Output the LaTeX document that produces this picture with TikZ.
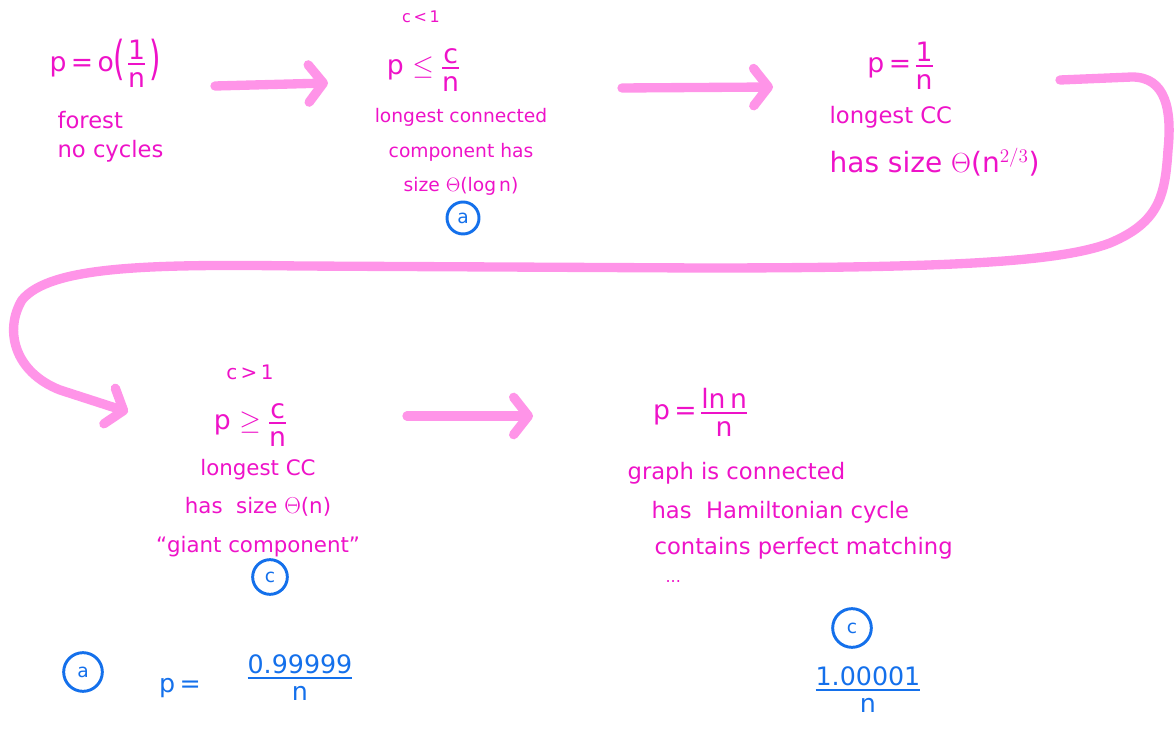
\documentclass[tikz,border=0pt]{standalone}
\usepackage{fontspec}
\setmainfont{DejaVu Sans}
\usetikzlibrary{arrows.meta}
\definecolor{mag}{RGB}{238,18,200}
\definecolor{blu}{RGB}{20,112,235}
\definecolor{arr}{RGB}{255,148,232}
\newcommand{\hfr}[2]{$\vcenter{\offinterlineskip\halign{\hfil##\hfil\cr\vrule height0.76em depth0.06em width0pt #1\cr\noalign{\kern1.5pt\hrule height1.3pt\kern1.5pt}\vrule height0.76em depth0.06em width0pt #2\cr}}$}
\newcommand{\tallparen}[1]{\raisebox{-0.12em}{\scalebox{1.1}[1.75]{#1}}}
\tikzset{
  txt/.style={text=mag, font=\fontsize{14}{26}\selectfont, inner sep=1pt},
  bigtxt/.style={text=mag, font=\fontsize{20}{24}\selectfont, inner sep=1pt},
  smalltxt/.style={text=mag, font=\fontsize{12}{14}\selectfont, inner sep=1pt},
  bluetxt/.style={text=blu, font=\fontsize{19}{22}\selectfont, inner sep=1pt},
  lab/.style={circle, draw=blu, line width=2.2pt, text=blu, inner sep=0pt, minimum size=24pt, font=\fontsize{14}{16}\selectfont},
  conn/.style={draw=arr, line width=7pt, line cap=round, line join=round,
    -{Straight Barb[round, length=11pt 0, width=28pt 0]}}
}
\begin{document}
\begin{tikzpicture}[x=0.75pt, y=-0.75pt]
\useasboundingbox (0,0) rectangle (1175,730);

% top row
\node[bigtxt] (p1) at (105,64) {p\,=\,o\tallparen{(}\kern2pt\hfr{1}{n}\kern3pt\tallparen{)}};
\node[txt, font=\fontsize{17}{22}\selectfont, align=left, anchor=west] (d1) at (56,137) {forest\\no cycles};

\node[smalltxt] (c1) at (421,17) {c\,<\,1};
\node[bigtxt] (p2) at (423,68) {p $\le$ \hfr{c}{n}};
\node[txt, align=center] (d2) at (461,152) {longest connected\\component has\\size $\Theta$(log\,n)};
\node[lab] (la) at (463,218) {a};

\node[bigtxt] (p3) at (900,66) {p\,=\,\hfr{1}{n}};
\node[txt, font=\fontsize{17}{20}\selectfont, anchor=west] (d3a) at (828,117) {longest CC};
\node[bigtxt, font=\fontsize{21}{24}\selectfont, anchor=west] (d3b) at (828,162) {has size $\Theta$(n$^{2/3}$)};

% bottom row
\node[txt, font=\fontsize{15}{18}\selectfont] (c2) at (250,372) {c\,>\,1};
\node[bigtxt] (p4) at (250,423) {p $\ge$ \hfr{c}{n}};
\node[txt, font=\fontsize{16}{29}\selectfont, align=center] (d4) at (258,508) {longest CC\\has \ size $\Theta$(n)\\“giant component”};
\node[lab, minimum size=26pt] (lc) at (270,577) {c};

\node[bigtxt] (p5) at (700,413) {p\,=\,\hfr{ln\,n}{n}};
\node[txt, font=\fontsize{17}{20}\selectfont, anchor=west] (g1) at (626,473) {graph is connected};
\node[txt, font=\fontsize{17}{20}\selectfont, anchor=west] (g2) at (650,512) {has \ Hamiltonian cycle};
\node[txt, font=\fontsize{17}{20}\selectfont, anchor=west] (g3) at (653,548) {contains perfect matching};
\node[txt, font=\fontsize{12}{14}\selectfont, anchor=west] (g4) at (664,582) {...};

% blue notes
\node[lab, minimum size=29pt] (lc2) at (852,628) {c};
\node[bluetxt] (f2) at (868,690) {\hfr{1.00001}{n}};
\node[lab, minimum size=29pt] (la2) at (83,672) {a};
\node[bluetxt] (pp) at (180,688) {p\,=};
\node[bluetxt] (f1) at (300,678) {\hfr{0.99999}{n}};

% connectors
\coordinate (a1s) at (215,86);
\coordinate (a1e) at (328,83);
\coordinate (a2s) at (622,88);
\coordinate (a2e) at (773,87);
\coordinate (a3s) at (407,416);
\coordinate (a3e) at (533,416);
\coordinate (bs) at (1060,80);
\coordinate (be) at (128,412);

\draw[conn] (a1s) -- (a1e);
\draw[conn] (a2s) -- (a2e);
\draw[conn] (a3s) -- (a3e);
\draw[conn] (bs) -- (1132,77) .. controls (1166,77) and (1172,110) .. (1168,150)
  .. controls (1165,195) and (1160,222) .. (1110,243)
  .. controls (1060,262) and (950,268) .. (700,268) -- (300,266)
  .. controls (150,264) and (50,266) .. (22,300)
  .. controls (4,330) and (14,372) .. (60,390) -- (be);
\end{tikzpicture}
\end{document}
